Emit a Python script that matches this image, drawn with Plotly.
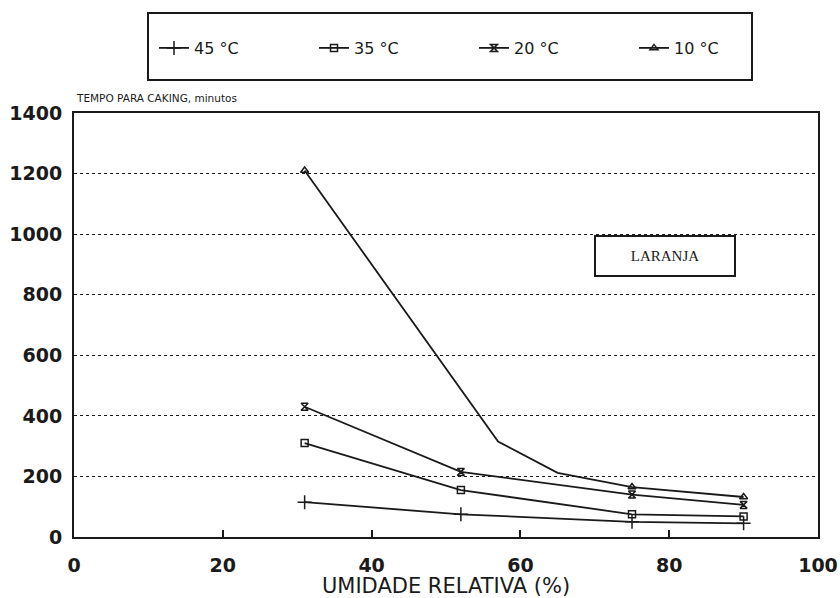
import plotly.graph_objects as go

# Data
rh_45 = [31, 52, 75, 90]
t_45 = [115, 75, 50, 45]
rh_35 = [31, 52, 75, 90]
t_35 = [310, 155, 75, 68]
rh_20 = [31, 52, 75, 90]
t_20 = [430, 215, 140, 106]
rh_10 = [31, 57, 65, 75, 90]
t_10 = [1210, 315, 212, 165, 132]
marks_10 = [True, False, False, True, True]

series_names = ["45 °C", "35 °C", "20 °C", "10 °C"]
x_ticks = [0, 20, 40, 60, 80, 100]
y_ticks = [0, 200, 400, 600, 800, 1000, 1200, 1400]

ink = "#1a1a1a"
clear = "rgba(0,0,0,0)"
font_main = "DejaVu Sans"

fig = go.Figure()
specs = [
    (rh_45, t_45, series_names[0], "cross-thin-open", 10, None),
    (rh_35, t_35, series_names[1], "square-open", 7, None),
    (rh_20, t_20, series_names[2], "hourglass-open", 7, None),
    (rh_10, t_10, series_names[3], "triangle-up-open", 7, marks_10),
]
for xs, ys, name, sym, size, marks in specs:
    colors = ink if marks is None else [ink if m else clear for m in marks]
    fig.add_trace(go.Scatter(
        x=xs, y=ys, name=name, mode="lines+markers",
        line=dict(color=ink, width=1.8),
        marker=dict(symbol=sym, size=size, color=colors, line=dict(color=colors, width=1.5)),
    ))

fig.update_layout(
    width=840, height=598,
    margin=dict(l=74, r=22, t=113, b=61, autoexpand=False),
    paper_bgcolor="white", plot_bgcolor="white",
    font=dict(family=font_main, color=ink, size=16),
    showlegend=True,
    legend=dict(
        orientation="h", x=(154 - 74) / 744, y=1 + (113 - 48) / 424,
        xanchor="left", yanchor="middle",
        bgcolor="rgba(0,0,0,0)", borderwidth=0,
        font=dict(family=font_main, size=16, color=ink),
        entrywidth=115, itemwidth=30,
    ),
    xaxis=dict(
        range=[0, 100], tickvals=x_ticks, ticks="inside", ticklen=7, tickwidth=1.5,
        tickcolor=ink, showline=True, linecolor=ink, linewidth=2, mirror=True,
        showgrid=False, zeroline=False, ticklabelstandoff=10,
        tickfont=dict(family=font_main, size=19, color=ink, weight="bold"),
        title=dict(text="UMIDADE RELATIVA (%)", standoff=4,
                   font=dict(family=font_main, size=21, color=ink)),
    ),
    yaxis=dict(
        range=[0, 1400], tickvals=y_ticks, ticks="", showline=True, linecolor=ink,
        linewidth=2, mirror=True, showgrid=True, gridcolor=ink, griddash="dot",
        gridwidth=1.3, zeroline=False, ticklabelstandoff=6,
        tickfont=dict(family=font_main, size=19, color=ink, weight="bold"),
    ),
    shapes=[
        dict(type="rect", xref="paper", yref="paper",
             x0=(148 - 74) / 744, x1=(752 - 74) / 744,
             y0=1 + (113 - 80) / 424, y1=1 + (113 - 13) / 424,
             line=dict(color=ink, width=2), fillcolor="rgba(0,0,0,0)"),
    ],
    annotations=[
        dict(text="TEMPO PARA CAKING, minutos", xref="paper", yref="paper",
             x=0, y=1 + (113 - 98) / 424, xanchor="left", yanchor="middle",
             showarrow=False, font=dict(family=font_main, size=10.5, color=ink)),
        dict(text="LARANJA", xref="x", yref="y", x=79.5, y=929, xanchor="center",
             yanchor="middle", showarrow=False,
             font=dict(family="Liberation Serif", size=15, color=ink),
             bordercolor=ink, borderwidth=2, borderpad=11, bgcolor="white",
             width=116),
    ],
)

fig.write_html("out.html")
